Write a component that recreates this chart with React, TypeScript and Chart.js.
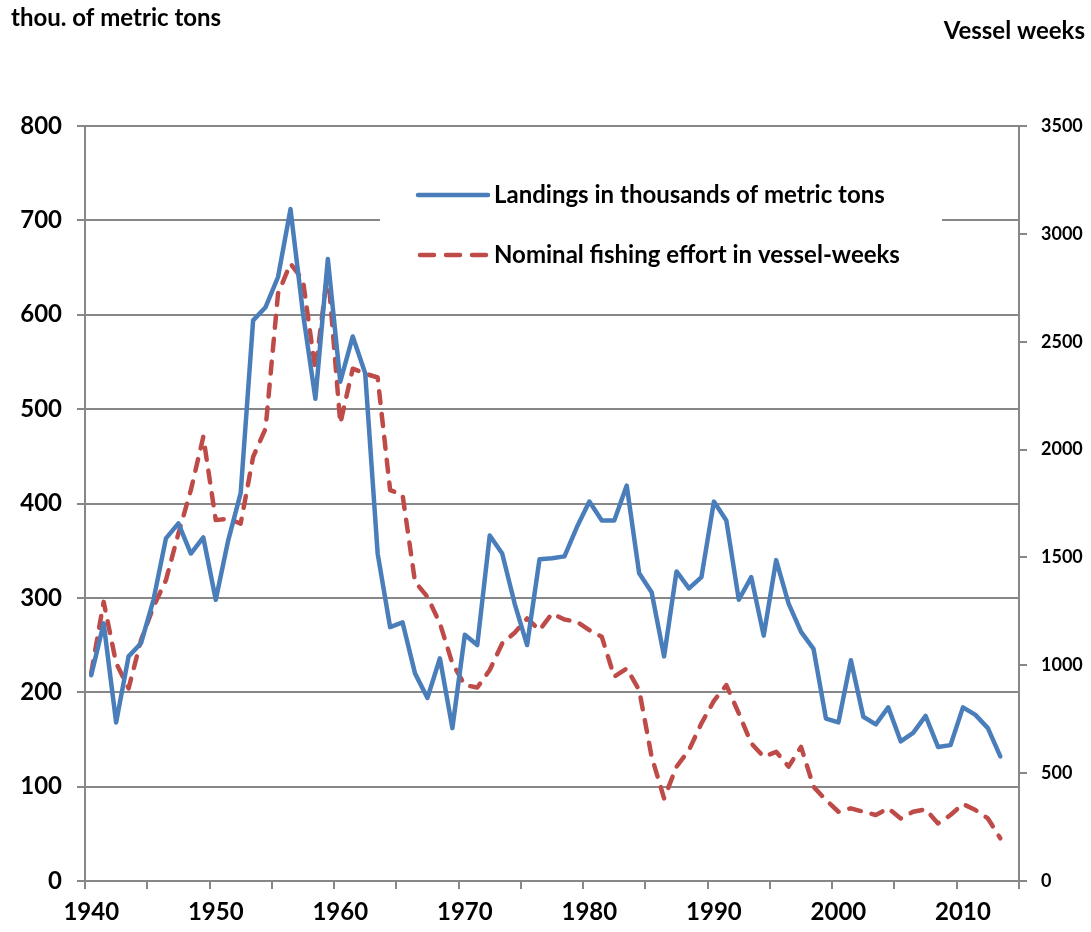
import React, { useEffect, useRef } from "react";
import { Chart, registerables } from "chart.js";

Chart.register(...registerables);

const years: string[] = [];
for (let y = 1940; y <= 2014; y++) years.push(String(y));

// Landings, thousands of metric tons, 1940-2013
const landings: number[] = [
  218, 273, 168, 238, 252, 298, 363, 379, 347, 364,
  298, 361, 411, 594, 608, 640, 712, 602, 511, 659,
  529, 577, 538, 347, 269, 274, 220, 194, 236, 162,
  261, 250, 366, 347, 294, 250, 341, 342, 344, 375,
  402, 382, 382, 419, 326, 306, 238, 328, 310, 322,
  402, 382, 298, 322, 260, 340, 294, 264, 246, 172,
  168, 234, 174, 166, 184, 148, 157, 175, 142, 144,
  184, 176, 162, 132,
];

// Nominal fishing effort, vessel-weeks, 1940-2013
const effort: number[] = [
  964, 1294, 1010, 893, 1117, 1271, 1395, 1611, 1812, 2059,
  1673, 1680, 1657, 1966, 2097, 2723, 2862, 2785, 2368, 2831,
  2121, 2375, 2352, 2334, 1812, 1790, 1387, 1317, 1194, 1009,
  908, 897, 978, 1101, 1151, 1217, 1163, 1240, 1212, 1202,
  1163, 1132, 947, 985, 885, 576, 383, 530, 607, 731,
  835, 908, 777, 638, 576, 599, 530, 622, 437, 375,
  321, 337, 321, 306, 337, 290, 321, 332, 267, 306,
  357, 329, 290, 198,
];

const leftTitle = "thou. of metric tons";
const rightTitle = "Vessel weeks";
const seriesNames = [
  "Landings in thousands of metric tons",
  "Nominal fishing effort in vessel-weeks",
];

const BLUE = "#4a7ebb";
const RED = "#be4b48";
const GRID = "#878787";
const FONT = "Lato, 'Open Sans', sans-serif";

export default function App() {
  const ref = useRef<HTMLCanvasElement | null>(null);

  useEffect(() => {
    if (!ref.current) return;

    const overlay = {
      id: "overlay",
      beforeDatasetsDraw(chart: any) {
        const ctx = chart.ctx;
        ctx.save();
        ctx.fillStyle = "#ffffff";
        ctx.fillRect(380, 162, 562, 126);
        // legend samples
        ctx.lineCap = "round";
        ctx.lineWidth = 4.5;
        ctx.strokeStyle = BLUE;
        ctx.setLineDash([]);
        ctx.beginPath();
        ctx.moveTo(418, 195);
        ctx.lineTo(488, 195);
        ctx.stroke();
        ctx.strokeStyle = RED;
        ctx.setLineDash([14, 12]);
        ctx.beginPath();
        ctx.moveTo(420, 255);
        ctx.lineTo(486, 255);
        ctx.stroke();
        ctx.setLineDash([]);
        ctx.fillStyle = "#000";
        ctx.font = `bold 24px ${FONT}`;
        ctx.textBaseline = "middle";
        ctx.textAlign = "left";
        ctx.fillText(seriesNames[0], 494, 195);
        ctx.fillText(seriesNames[1], 494, 255);
        ctx.restore();
      },
      afterDraw(chart: any) {
        const ctx = chart.ctx;
        ctx.save();
        ctx.fillStyle = "#000";
        ctx.font = `bold 24px ${FONT}`;
        ctx.textBaseline = "alphabetic";
        ctx.textAlign = "left";
        ctx.fillText(leftTitle, 11, 26);
        ctx.textAlign = "right";
        ctx.fillText(rightTitle, 1085, 39);
        ctx.restore();
      },
    };

    const chart = new Chart(ref.current, {
      type: "line",
      data: {
        labels: years,
        datasets: [
          {
            label: seriesNames[0],
            data: landings,
            yAxisID: "y",
            borderColor: BLUE,
            backgroundColor: BLUE,
            borderWidth: 4.5,
            pointRadius: 0,
            tension: 0,
            borderJoinStyle: "round",
            borderCapStyle: "round",
          },
          {
            label: seriesNames[1],
            data: effort,
            yAxisID: "y1",
            borderColor: RED,
            backgroundColor: RED,
            borderWidth: 4.5,
            borderDash: [12, 11],
            pointRadius: 0,
            tension: 0,
            borderJoinStyle: "round",
            borderCapStyle: "round",
          },
        ],
      },
      options: {
        responsive: false,
        animation: false,
        devicePixelRatio: 1,
        layout: { padding: { top: 126, left: 0, right: 0, bottom: 0 } },
        plugins: {
          legend: { display: false },
          tooltip: { enabled: false },
          title: { display: false },
        },
        scales: {
          x: {
            type: "category",
            offset: true,
            afterFit(scale: any) {
              scale.height = 51;
            },
            grid: {
              offset: true,
              drawOnChartArea: false,
              drawTicks: true,
              tickLength: 8,
              lineWidth: 2,
              color: (c: any) =>
                c.index === undefined || c.index % 5 === 0 ? GRID : "rgba(0,0,0,0)",
            },
            border: { display: true, color: GRID, width: 2 },
            ticks: {
              autoSkip: false,
              maxRotation: 0,
              minRotation: 0,
              padding: 9,
              color: "#000",
              font: { family: FONT, size: 24, weight: "bold" },
              callback: (_v: any, i: number) =>
                Number(years[i]) % 10 === 0 ? years[i] : "",
            },
          },
          y: {
            position: "left",
            min: 0,
            max: 800,
            afterFit(scale: any) {
              scale.width = 85;
            },
            grid: {
              color: GRID,
              lineWidth: 2,
              drawTicks: true,
              tickLength: 8,
            },
            border: { display: true, color: GRID, width: 2 },
            ticks: {
              stepSize: 100,
              padding: 15,
              color: "#000",
              font: { family: FONT, size: 24, weight: "bold" },
              callback: (v: any) => String(v),
            },
          },
          y1: {
            position: "right",
            min: 0,
            max: 3500,
            afterFit(scale: any) {
              scale.width = 72;
            },
            grid: {
              drawOnChartArea: false,
              color: GRID,
              lineWidth: 2,
              drawTicks: true,
              tickLength: 8,
            },
            border: { display: true, color: GRID, width: 2 },
            ticks: {
              stepSize: 500,
              padding: 14,
              color: "#000",
              font: { family: FONT, size: 18, weight: "bold" },
              callback: (v: any) => String(v),
            },
          },
        },
      },
      plugins: [overlay],
    } as any);

    return () => chart.destroy();
  }, []);

  return (
    <div style={{ position: "fixed", left: 0, top: 0, width: 1091, height: 932, background: "#fff" }}>
      <canvas ref={ref} width={1091} height={932} style={{ width: 1091, height: 932, display: "block" }} />
    </div>
  );
}
